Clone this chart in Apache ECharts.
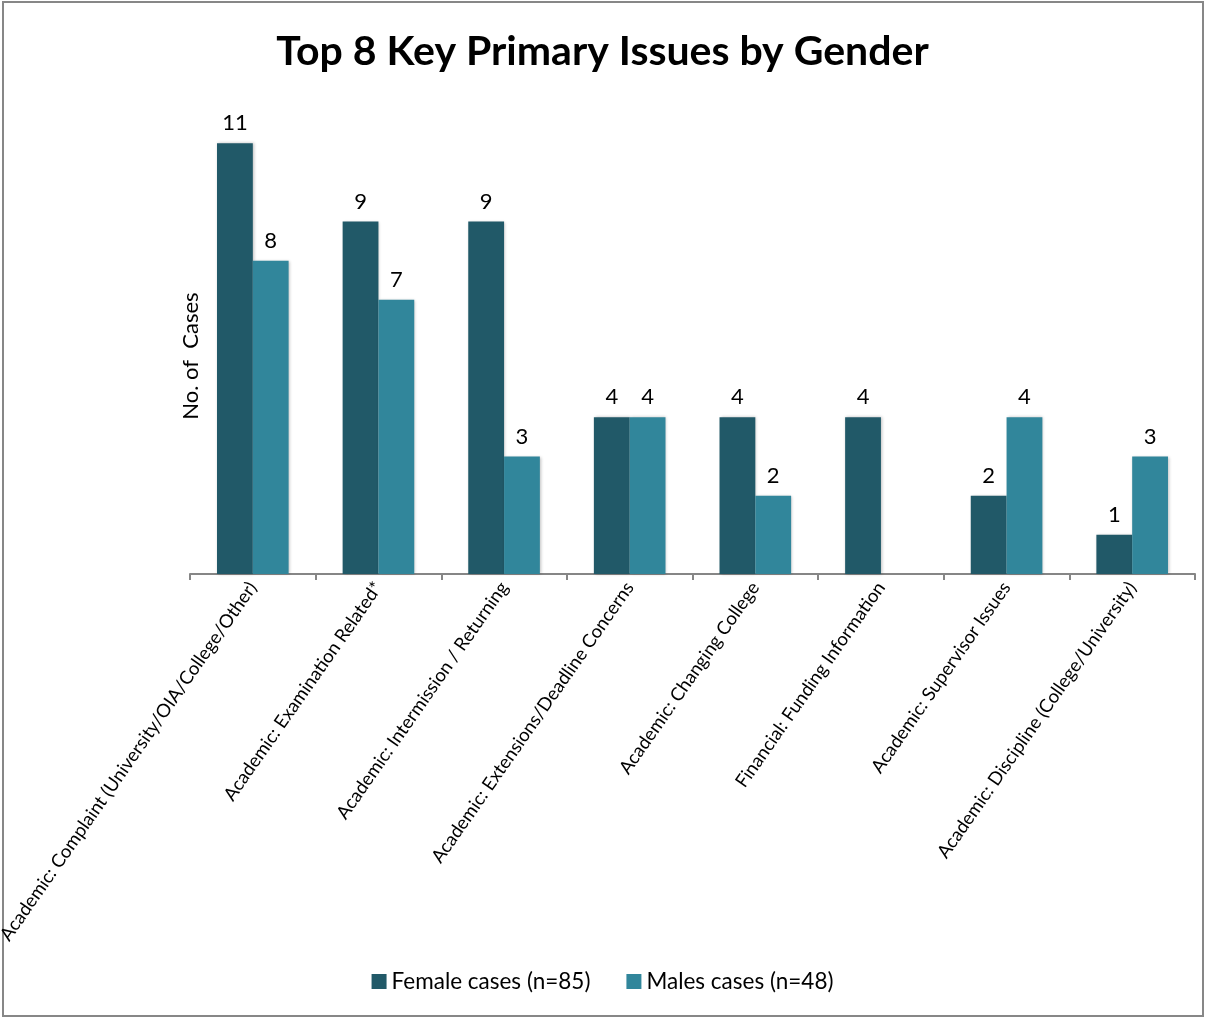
<!DOCTYPE html>
<html>
<head>
<meta charset="utf-8">
<script src="https://cdn.jsdelivr.net/npm/echarts@6/dist/echarts.min.js"></script>
<style>
html,body{margin:0;padding:0;background:#fff;}
#main{width:1205px;height:1019px;}
</style>
</head>
<body>
<div id="main"></div>
<script>
// data
var categories=[
	'Academic: Complaint (University/OIA/College/Other)',
	'Academic: Examination Related*',
	'Academic: Intermission / Returning',
	'Academic: Extensions/Deadline Concerns',
	'Academic: Changing College',
	'Financial: Funding Information',
	'Academic: Supervisor Issues',
	'Academic: Discipline (College/University)'
];
var femaleCases=[11,9,9,4,4,4,2,1];
var maleCases=[8,7,3,4,2,0,4,3];
var seriesNames=['Female cases (n=85)','Males cases (n=48)'];

var fontName='Lato, "Open Sans", sans-serif';
var chart=echarts.init(document.getElementById('main'));

function hideZero(p){
	return p.value ? p.value : '';
}

var option={
	backgroundColor:'#ffffff',
	animation:false,
	textStyle:{fontFamily:fontName},
	title:{
		text:'Top 8 Key Primary Issues by Gender',
		left:'center',
		top:26,
		textStyle:{fontSize:41,fontWeight:'bold',color:'#000',fontFamily:fontName}
	},
	legend:{
		bottom:21,
		left:'center',
		itemWidth:15,
		itemHeight:15,
		itemGap:36,
		icon:'rect',
		textStyle:{fontSize:22.5,color:'#000',fontFamily:fontName},
		data:seriesNames
	},
	grid:{left:190,right:10,top:104,bottom:445,containLabel:false,outerBoundsMode:'none'},
	xAxis:{
		type:'category',
		data:categories,
		axisLine:{show:true,lineStyle:{color:'#868686',width:2}},
		axisTick:{show:true,alignWithLabel:false,length:6,lineStyle:{color:'#868686',width:2}},
		axisLabel:{
			interval:0,
			rotate:55,
			fontSize:18.5,
			color:'#000',
			margin:10,
			fontFamily:fontName
		}
	},
	yAxis:{
		type:'value',
		min:0,
		max:12,
		name:'No. of  Cases',
		nameLocation:'middle',
		nameGap:-12,
		nameRotate:90,
		nameTextStyle:{fontSize:22,color:'#000',fontFamily:fontName,padding:[0,34,0,0]},
		axisLine:{show:false},
		axisTick:{show:false},
		axisLabel:{show:false},
		splitLine:{show:false}
	},
	series:[
		{
			name:seriesNames[0],
			type:'bar',
			data:femaleCases,
			barGap:'0%',
			barCategoryGap:'43%',
			itemStyle:{color:'#215968',shadowColor:'rgba(0,0,0,0.25)',shadowBlur:3,shadowOffsetX:1,shadowOffsetY:0},
			label:{show:true,position:'top',distance:9,fontSize:22,color:'#000',fontFamily:fontName,formatter:hideZero}
		},
		{
			name:seriesNames[1],
			type:'bar',
			data:maleCases,
			barGap:'0%',
			barCategoryGap:'43%',
			itemStyle:{color:'#31869B',shadowColor:'rgba(0,0,0,0.25)',shadowBlur:3,shadowOffsetX:1,shadowOffsetY:0},
			label:{show:true,position:'top',distance:9,fontSize:22,color:'#000',fontFamily:fontName,formatter:hideZero}
		}
	],
	graphic:[
		{
			type:'rect',
			shape:{x:3,y:2,width:1200,height:1014},
			style:{fill:'none',stroke:'#878787',lineWidth:2},
			silent:true
		}
	]
};
chart.setOption(option);
</script>
</body>
</html>
